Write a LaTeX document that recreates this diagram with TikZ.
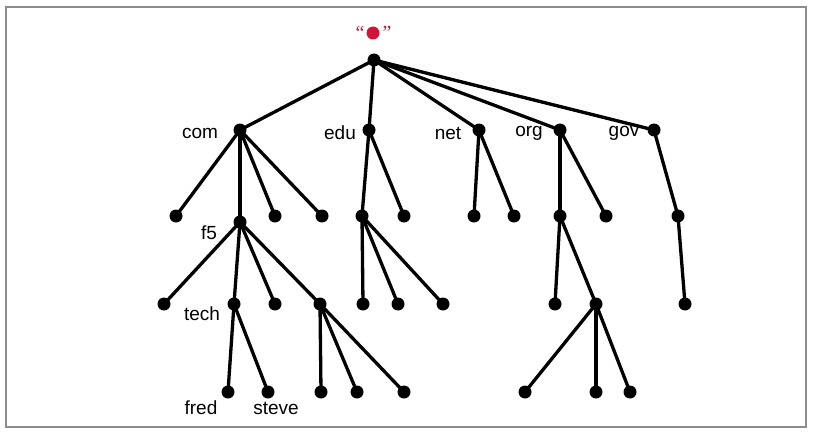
\documentclass[tikz,border=0pt]{standalone}
\usepackage{fontspec}
\setmainfont{Liberation Sans}
\newfontfamily\qfont{Liberation Serif}
\definecolor{dotred}{RGB}{210,20,55}
\definecolor{framegray}{RGB}{140,140,140}
\begin{document}
\begin{tikzpicture}[x=1pt,y=-1pt,
  dot/.style={circle,fill=black,inner sep=0pt,minimum size=13pt},
  edge/.style={line width=3.3pt},
  lbl/.style={font=\fontsize{19}{20}\selectfont,inner sep=0pt}]
\useasboundingbox (0,0) rectangle (814,436);
\draw[framegray,line width=2pt] (6,7) rectangle (806,427);
% root
\node[circle,fill=dotred,inner sep=0pt,minimum size=13pt] (red) at (373,33) {};
\node[inner sep=0pt,text=dotred,font=\qfont\fontsize{20}{20}\selectfont] (ql) at (360,33) {“};
\node[inner sep=0pt,text=dotred,font=\qfont\fontsize{20}{20}\selectfont] (qr) at (387,33) {”};
\node[dot] (root) at (374,60) {};
% level 1
\node[dot] (com) at (240,130) {};
\node[dot] (edu) at (369,130) {};
\node[dot] (net) at (479,130) {};
\node[dot] (org) at (560,130) {};
\node[dot] (gov) at (654,130) {};
% level 2
\node[dot] (c1) at (176,216) {};
\node[dot] (f5) at (240,222) {};
\node[dot] (c3) at (275,216) {};
\node[dot] (c4) at (322,216) {};
\node[dot] (e1) at (362,216) {};
\node[dot] (e2) at (404,216) {};
\node[dot] (n1) at (474,216) {};
\node[dot] (n2) at (514,216) {};
\node[dot] (o1) at (560,216) {};
\node[dot] (o2) at (606,216) {};
\node[dot] (g1) at (678,216) {};
% level 3
\node[dot] (f1) at (164,304) {};
\node[dot] (tech) at (234,304) {};
\node[dot] (f3) at (275,304) {};
\node[dot] (f4) at (320,304) {};
\node[dot] (e11) at (363,304) {};
\node[dot] (e12) at (398,304) {};
\node[dot] (e13) at (443,304) {};
\node[dot] (o11) at (555,304) {};
\node[dot] (o12) at (596,304) {};
\node[dot] (g11) at (685,304) {};
% level 4
\node[dot] (fred) at (228,392) {};
\node[dot] (steve) at (268,392) {};
\node[dot] (f41) at (321,392) {};
\node[dot] (f42) at (357,392) {};
\node[dot] (f43) at (404,392) {};
\node[dot] (o121) at (525,392) {};
\node[dot] (o122) at (596,392) {};
\node[dot] (o123) at (630,392) {};
% labels
\node[lbl] (lcom) at (200,133) {com};
\node[lbl] (ledu) at (340,133) {edu};
\node[lbl] (lnet) at (448,133) {net};
\node[lbl] (lorg) at (529,133) {org};
\node[lbl] (lgov) at (624,133) {gov};
\node[lbl] (lf5) at (209,233) {f5};
\node[lbl] (ltech) at (202,314) {tech};
\node[lbl] (lfred) at (201,408) {fred};
\node[lbl] (lsteve) at (276,408) {steve};
% edges
\foreach \a/\b in {root/com,root/edu,root/net,root/org,root/gov,
  com/c1,com/f5,com/c3,com/c4,edu/e1,edu/e2,net/n1,net/n2,org/o1,org/o2,gov/g1,
  f5/f1,f5/tech,f5/f3,f5/f4,e1/e11,e1/e12,e1/e13,o1/o11,o1/o12,g1/g11,
  tech/fred,tech/steve,f4/f41,f4/f42,f4/f43,o12/o121,o12/o122,o12/o123}
  \draw[edge] (\a.center) -- (\b.center);
\end{tikzpicture}
\end{document}
